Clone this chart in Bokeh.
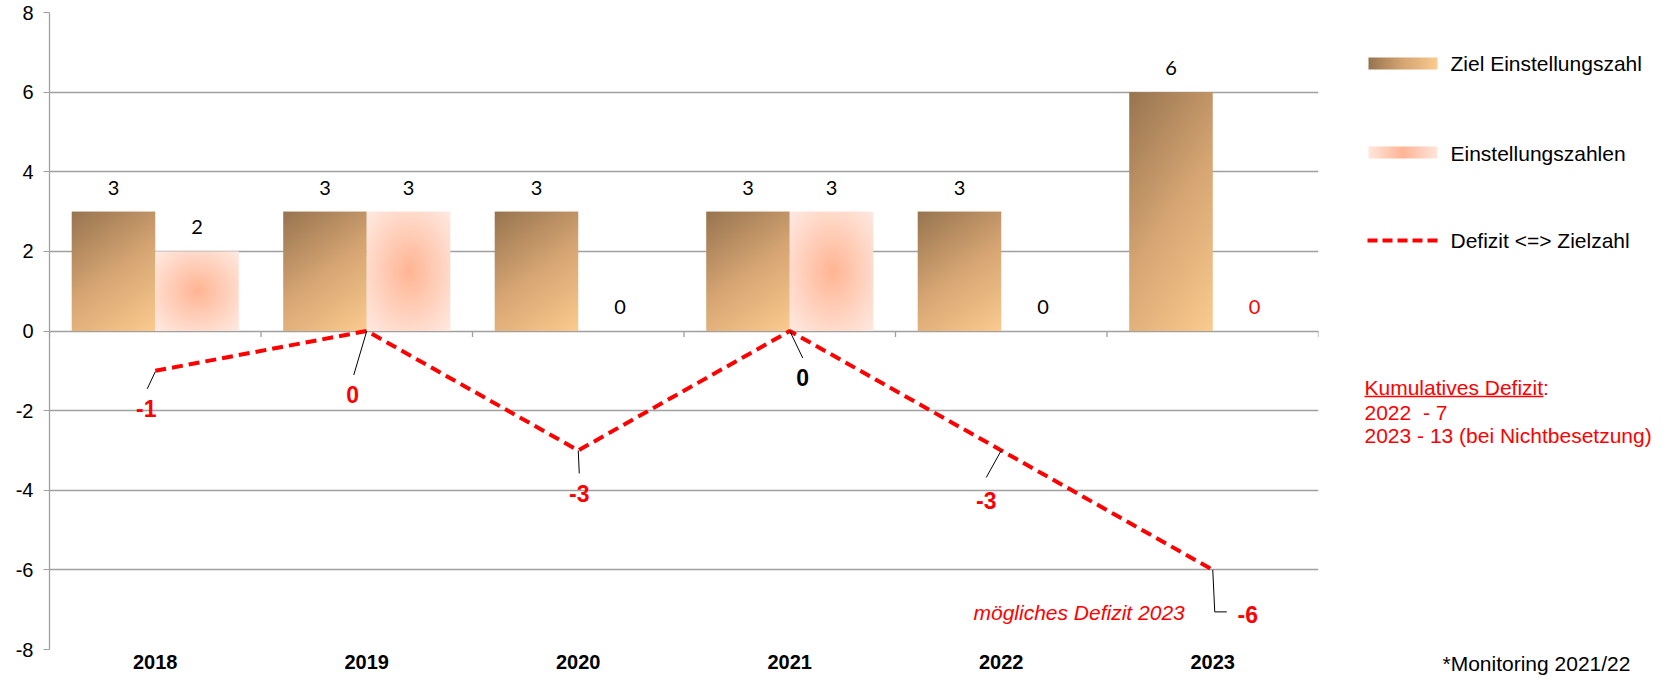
import numpy as np
from bokeh.plotting import figure
from bokeh.layouts import row
from bokeh.models import FixedTicker, Range1d, ColumnDataSource
from bokeh.core.properties import value
from bokeh.embed import file_html
from bokeh.resources import INLINE

# ---------------- data ----------------
years = ["2018", "2019", "2020", "2021", "2022", "2023"]
ziel_einstellungszahl = [3, 3, 3, 3, 3, 6]
einstellungszahlen = [2, 3, 0, 3, 0, 0]
defizit = [-1, 0, -3, 0, -3, -6]
y_ticks = [-8, -6, -4, -2, 0, 2, 4, 6, 8]
series_names = ["Ziel Einstellungszahl", "Einstellungszahlen", "Defizit <=> Zielzahl"]
kumulativ_title = "Kumulatives Defizit"
kumulativ_lines = ["2022 \u00a0- 7", "2023 - 13 (bei Nichtbesetzung)"]
hint_2023 = "mögliches Defizit 2023"
footnote = "*Monitoring 2021/22"

# ---------------- styles ----------------
RED = "#FF0000"
GRID = "#A0A0A0"
FONT = "Liberation Sans"
W_MAIN, W_LEG, H = 1328, 327, 678
BL, BR, BT, BB = 49, 10, 12, 29
frame_w = W_MAIN - BL - BR
frame_h = H - BT - BB
n = len(years)
px_x = frame_w / n
px_y = frame_h / (y_ticks[-1] - y_ticks[0])
BAR_W = 0.395

BROWN_STOPS = [(0.0, (152, 117, 80)), (0.5, (214, 165, 115)), (1.0, (251, 203, 143))]
SALMON_STOPS = [(0.0, (255, 181, 148)), (0.75, (255, 222, 208)), (1.0, (255, 234, 227))]


def ramp(t, stops):
    pos = [s[0] for s in stops]
    return [np.interp(t, pos, [s[1][c] for s in stops]) for c in range(3)]


def rgba_image(rgb):
    r, g, b = rgb
    h, w = r.shape
    img = np.empty((h, w), dtype=np.uint32)
    v = img.view(dtype=np.uint8).reshape((h, w, 4))
    v[..., 0] = np.clip(r, 0, 255).astype(np.uint8)
    v[..., 1] = np.clip(g, 0, 255).astype(np.uint8)
    v[..., 2] = np.clip(b, 0, 255).astype(np.uint8)
    v[..., 3] = 255
    return np.ascontiguousarray(img[::-1])


def brown_fill(h, w):
    v = np.linspace(0, 1, h)[:, None]
    u = np.linspace(0, 1, w)[None, :]
    t = np.clip((0.8 * v + 0.4 * u) / 1.2, 0, 1)
    return rgba_image(ramp(t, BROWN_STOPS))


def salmon_fill(h, w):
    v = np.linspace(0, 1, h)[:, None]
    u = np.linspace(0, 1, w)[None, :]
    r = np.sqrt(((u - 0.5) / 0.5) ** 2 + ((v - 0.5) / 0.5) ** 2) / np.sqrt(2)
    return rgba_image(ramp(np.clip(r, 0, 1), SALMON_STOPS))


# ---------------- main chart ----------------
p = figure(width=W_MAIN, height=H, x_range=Range1d(-0.5, n - 0.5),
           y_range=Range1d(y_ticks[0], y_ticks[-1]),
           output_backend="svg", toolbar_location=None,
           min_border_left=BL, min_border_right=BR, min_border_top=BT, min_border_bottom=BB)
p.outline_line_color = None
p.background_fill_color = "white"
p.border_fill_color = "white"

p.xgrid.visible = False
p.ygrid.ticker = FixedTicker(ticks=y_ticks, minor_ticks=[])
p.ygrid.grid_line_color = GRID
p.ygrid.grid_line_width = 1.3

p.yaxis.ticker = FixedTicker(ticks=y_ticks, minor_ticks=[])
p.yaxis.major_label_overrides = {t: str(t) for t in y_ticks}
p.yaxis.axis_line_color = GRID
p.yaxis.axis_line_width = 1.3
p.yaxis.major_tick_line_color = GRID
p.yaxis.major_tick_out = 6
p.yaxis.major_tick_in = 0
p.yaxis.minor_tick_line_color = None
p.yaxis.major_label_standoff = 10
p.yaxis.major_label_text_font = FONT
p.yaxis.major_label_text_font_size = "20px"
p.yaxis.major_label_text_color = "black"

x_idx = list(range(n))
p.xaxis.ticker = FixedTicker(ticks=x_idx, minor_ticks=[])
p.xaxis.major_label_overrides = {i: y for i, y in enumerate(years)}
p.xaxis.axis_line_color = None
p.xaxis.major_tick_line_color = None
p.xaxis.minor_tick_line_color = None
p.xaxis.major_tick_out = 0
p.xaxis.major_label_standoff = 5
p.xaxis.major_label_text_font = FONT
p.xaxis.major_label_text_font_style = "bold"
p.xaxis.major_label_text_font_size = "20px"
p.xaxis.major_label_text_color = "black"

# category tick marks on the zero line
bounds = [i - 0.5 for i in range(n + 1)]
p.segment(x0=bounds, y0=[0] * len(bounds), x1=bounds, y1=[-6 / px_y] * len(bounds),
          line_color=GRID, line_width=1.3)

# bars (gradient filled)
imgs, xs, ys, dws, dhs = [], [], [], [], []
for i, val in enumerate(ziel_einstellungszahl):
    if val > 0:
        imgs.append(brown_fill(int(round(val * px_y)), int(round(BAR_W * px_x))))
        xs.append(i - BAR_W); ys.append(0); dws.append(BAR_W); dhs.append(val)
for i, val in enumerate(einstellungszahlen):
    if val > 0:
        imgs.append(salmon_fill(int(round(val * px_y)), int(round(BAR_W * px_x))))
        xs.append(i); ys.append(0); dws.append(BAR_W); dhs.append(val)
p.image_rgba(image=imgs, x=xs, y=ys, dw=dws, dh=dhs)

# bar value labels
p.text(x=[i - BAR_W / 2 for i in x_idx], y=ziel_einstellungszahl,
       text=[str(v) for v in ziel_einstellungszahl],
       text_align="center", text_baseline="middle", y_offset=-24,
       text_font=value("Lato"), text_font_size="20px", text_color="black")
einst_colors = ["black"] * (n - 1) + [RED]
p.text(x=[i + BAR_W / 2 for i in x_idx], y=einstellungszahlen,
       text=[str(v) for v in einstellungszahlen], text_color=einst_colors,
       text_align="center", text_baseline="middle", y_offset=-24,
       text_font=value("Lato"), text_font_size="20px")

# deficit line
p.line(x=x_idx, y=defizit, line_color=RED, line_width=4, line_dash="11 6")

# leader lines and labels
leader_px = [[(0, 1), (-8, 18)], [(0, 0), (-13, 44)], [(0, 0), (1, 23)],
             [(0, 0), (13, 27)], [(0, 0), (-15, 27)], [(0, 0), (2, 42), (14, 42)]]
lxs = [[i + dx / px_x for dx, dy in path] for i, path in enumerate(leader_px)]
lys = [[defizit[i] - dy / px_y for dx, dy in path] for i, path in enumerate(leader_px)]
p.multi_line(xs=lxs, ys=lys, line_color="black", line_width=1)

lab_off = [(-9, 38), (-14, 63), (1, 43), (13, 46), (-15, 50), (35, 45)]
lab_color = [RED, RED, RED, "black", RED, RED]
src = ColumnDataSource(dict(x=x_idx, y=defizit, text=[str(v) for v in defizit],
                            xo=[o[0] for o in lab_off], yo=[o[1] for o in lab_off],
                            color=lab_color))
p.text(x="x", y="y", text="text", x_offset="xo", y_offset="yo", text_color="color",
       text_align="center", text_baseline="middle", text_font=value(FONT),
       text_font_style="bold", text_font_size="23px", source=src)

p.text(x=[x_idx[-1]], y=[defizit[-1]], text=[hint_2023], x_offset=-28, y_offset=43,
       text_align="right", text_baseline="middle", text_font=value(FONT),
       text_font_style="italic", text_font_size="21px", text_color=RED)

# ---------------- legend / notes panel ----------------
# data y = canvas pixels counted from the bottom; frame is aligned with the main chart
q = figure(width=W_LEG, height=H, x_range=Range1d(0, W_LEG), y_range=Range1d(BB, H - BT),
           x_axis_location=None, y_axis_location=None,
           title=footnote, title_location="below",
           min_border_left=0, min_border_right=0, min_border_top=BT, min_border_bottom=BB,
           output_backend="svg", toolbar_location=None)
q.outline_line_color = None
q.grid.visible = False
q.background_fill_color = "white"
q.border_fill_color = "white"
q.title.align = "left"
q.title.offset = 114
q.title.standoff = 0
q.title.text_font = FONT
q.title.text_font_size = "21px"
q.title.text_font_style = "normal"
q.title.text_color = "black"

u = np.linspace(0, 1, 69)[None, :].repeat(12, axis=0)
sw1 = rgba_image(ramp(u, BROWN_STOPS))
sw2 = rgba_image(ramp(np.abs(u - 0.5) / 0.5 * 0.9, SALMON_STOPS))
q.image_rgba(image=[sw1, sw2], x=[40, 40], y=[H - 69, H - 158], dw=[69, 69], dh=[12, 12])
q.line(x=[39, 109], y=[H - 240, H - 240], line_color=RED, line_width=4, line_dash="10 5")
q.text(x=[122, 122, 122], y=[H - 63, H - 153, H - 240], text=series_names,
       text_baseline="middle", text_align="left", text_font=value(FONT),
       text_font_size="21px", text_color="black")

q.text(x=[36, 36, 36], y=[H - 387, H - 412, H - 435],
       text=[kumulativ_title + ":"] + kumulativ_lines,
       text_baseline="middle", text_align="left", text_font=value(FONT),
       text_font_size="21px", text_color=RED)
q.segment(x0=[36], y0=[H - 396], x1=[215], y1=[H - 396], line_color=RED, line_width=1.3)

layout = row(p, q)
open("out.html", "w").write(file_html(layout, INLINE))
